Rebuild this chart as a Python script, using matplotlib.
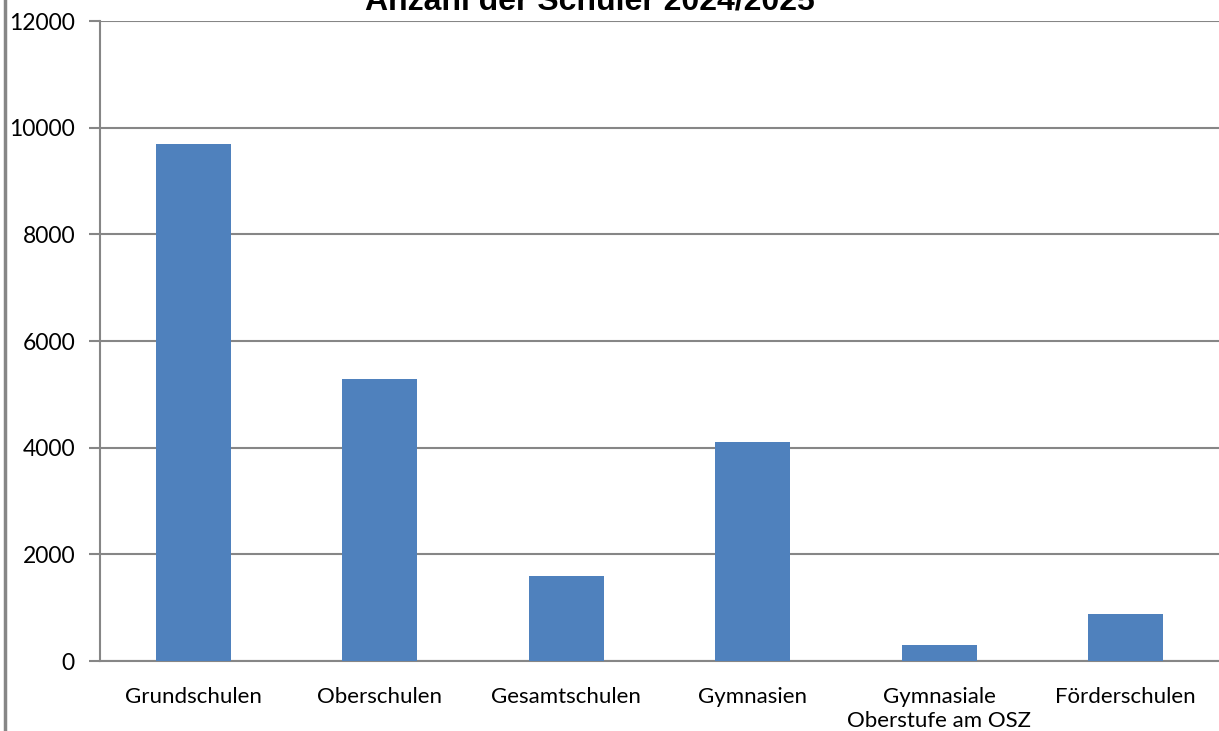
import matplotlib
matplotlib.use("Agg")
import matplotlib.pyplot as plt
from matplotlib.lines import Line2D

categories = ["Grundschulen", "Oberschulen", "Gesamtschulen", "Gymnasien",
              "Gymnasiale\nOberstufe am OSZ", "Förderschulen"]
values = [9700, 5290, 1600, 4100, 300, 880]
yticks = [0, 2000, 4000, 6000, 8000, 10000, 12000]
title = "Anzahl der Schüler 2024/2025"

W, H = 1219, 731
fig = plt.figure(figsize=(W / 100, H / 100), dpi=100)
ax = fig.add_axes([100 / W, 1 - 661 / H, (W - 100) / W, (661 - 21) / H])

gray = "#868686"
ax.bar(range(len(categories)), values, width=0.4, color="#4F81BD", zorder=3)
ax.set_xlim(-0.5, len(categories) - 0.5)
ax.set_ylim(0, 12000)
ax.set_yticks(yticks)
ax.set_yticklabels([str(v) for v in yticks], fontsize=16.5, family="Lato")
ax.set_xticks(range(len(categories)))
ax.set_xticklabels(categories, fontsize=16, family="Lato", linespacing=1.25)
ax.tick_params(axis="x", length=0, pad=19)
ax.tick_params(axis="y", length=8, width=1.5, color=gray, pad=10)
ax.grid(axis="y", color=gray, linewidth=1.5, zorder=0)
for s in ["top", "right"]:
    ax.spines[s].set_visible(False)
for s in ["left", "bottom"]:
    ax.spines[s].set_color(gray)
    ax.spines[s].set_linewidth(1.5)

fig.add_artist(Line2D([5 / W, 5 / W], [0, 1], transform=fig.transFigure,
                      color=gray, linewidth=2.5))
fig.text(590 / W, 1 - 10 / H, title, ha="center", va="baseline",
         fontsize=23, fontweight="bold", family="Liberation Sans")

fig.savefig("out.png", dpi=100)
